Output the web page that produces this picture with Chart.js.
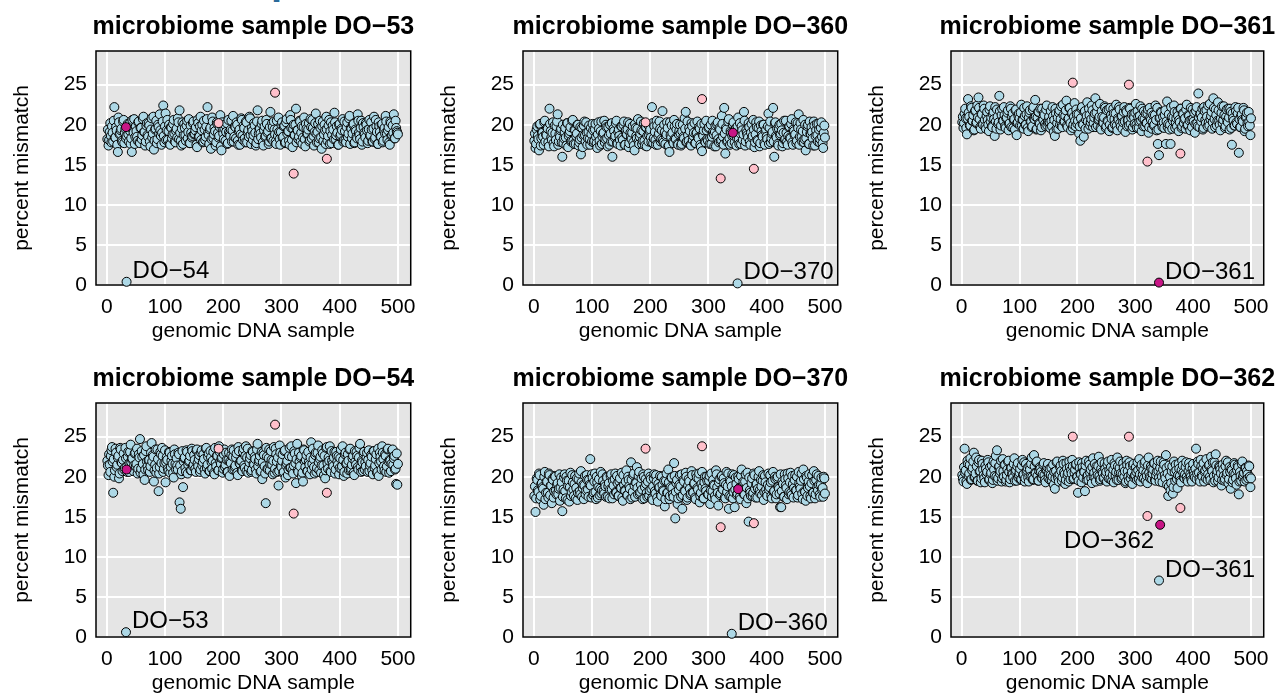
<!DOCTYPE html>
<html>
<head>
<meta charset="utf-8">
<script src="https://cdn.jsdelivr.net/npm/chart.js@4/dist/chart.umd.min.js"></script>
<style>
  html, body { margin: 0; padding: 0; background: #fff; overflow: hidden; width: 1279px; height: 693px; }
  canvas { position: absolute; }
  #frag { position: absolute; left: 271px; top: -40px; font: bold 40px "Liberation Sans", Arial, sans-serif; line-height: 40px; color: #2b6a9a; }
</style>
</head>
<body>
<div id="frag">p</div>
<script>
// percent mismatch of each genomic DNA sample against a microbiome sample
// "odd" arrays hold samples 1, 3, 5 ... 499 and "even" arrays samples 2, 4 ... 500
const odd53 = [
  18.2, 17.4, 19.1, 18.6, 19.8, 17.9, 22.2, 18.4, 19.3, 16.6, 20.3, 18.9, 19.5, 17.8, 20.6, 19.0, 18.3, 19.7, 18.8, 20.1, 17.6, 16.6, 19.4, 20.7, 18.5,
  19.2, 18.0, 20.4, 17.7, 19.6, 18.7, 21.0, 19.1, 17.9, 20.2, 18.5, 19.9, 17.3, 20.8, 18.9, 16.9, 19.4, 20.5, 18.2, 19.7, 21.3, 18.6, 19.0, 22.4, 17.8,
  21.4, 19.3, 18.1, 20.0, 17.5, 19.6, 18.8, 20.6, 17.9, 19.2, 18.4, 20.3, 21.8, 18.0, 19.5, 17.6, 20.1, 18.7, 19.9, 18.3, 20.7, 17.7, 19.0, 18.6, 20.4,
  18.9, 19.7, 17.2, 20.2, 18.5, 21.0, 19.3, 17.8, 20.5, 18.1, 19.8, 22.2, 18.7, 19.4, 17.0, 20.9, 18.3, 19.6, 17.4, 20.3, 19.0, 18.6, 21.2, 16.8, 19.5,
  18.2, 20.0, 19.1, 17.6, 20.6, 18.8, 19.4, 17.9, 21.1, 18.5, 19.7, 20.3, 18.0, 19.2, 17.5, 20.8, 18.6, 19.9, 18.3, 20.4, 17.8, 19.3, 21.0, 18.7, 19.6,
  18.1, 20.2, 19.0, 17.7, 21.8, 18.9, 19.5, 18.4, 20.5, 17.4, 19.8, 18.6, 20.1, 19.2, 17.9, 21.6, 18.3, 19.7, 20.4, 18.8, 17.6, 19.4, 20.9, 18.2, 19.1,
  20.3, 18.5, 19.9, 17.8, 20.7, 19.2, 18.0, 21.2, 19.6, 17.2, 20.0, 18.7, 22.0, 19.3, 18.2, 20.5, 17.9, 19.8, 18.4, 20.9, 17.3, 19.5, 18.9, 20.2, 18.1,
  19.7, 20.6, 18.6, 19.1, 21.4, 17.8, 20.1, 18.3, 19.6, 17.0, 20.4, 18.8, 19.3, 21.0, 18.0, 19.9, 17.6, 20.3, 18.7, 19.4, 21.5, 18.2, 19.8, 17.5, 20.0,
  18.6, 19.5, 20.7, 18.1, 19.2, 17.8, 20.3, 18.9, 21.1, 19.6, 18.3, 20.0, 17.7, 19.4, 18.5, 21.3, 19.0, 18.2, 20.5, 17.9, 19.7, 18.8, 20.2, 19.3, 18.0,
  20.6, 18.7, 19.4, 17.9, 21.0, 18.4, 19.8, 17.6, 20.3, 19.1, 18.5, 20.1, 18.0, 19.6, 21.1, 18.9, 19.3, 17.8, 20.4, 18.6, 19.9, 21.3, 18.3, 19.6, 19.0
];
const even53 = [
  19.4, 18.1, 20.2, 17.8, 19.0, 20.5, 18.4, 19.7, 17.5, 20.9, 18.8, 19.3, 18.0, 20.4, 17.7, 19.5, 18.6, 20.1, 17.9, 19.2, 18.3, 20.6, 19.0, 17.6, 19.8,
  18.5, 20.3, 17.8, 19.6, 18.2, 20.7, 19.1, 17.4, 19.9, 18.7, 20.2, 17.9, 19.4, 18.4, 21.0, 18.0, 19.5, 17.7, 20.0, 18.9, 19.3, 17.5, 20.4, 18.6, 19.8,
  18.1, 20.6, 19.2, 17.6, 19.7, 18.3, 20.1, 18.9, 17.8, 19.5, 20.8, 18.2, 19.0, 17.4, 20.3, 18.7, 19.6, 18.0, 20.5, 19.1, 17.7, 19.9, 18.4, 20.2, 18.8,
  19.3, 17.5, 20.6, 18.6, 19.8, 18.1, 20.0, 17.9, 19.4, 18.5, 20.7, 19.0, 17.6, 19.6, 18.2, 20.4, 18.8, 19.2, 17.8, 20.1, 18.4, 19.7, 17.3, 20.3, 18.9,
  19.5, 18.0, 20.2, 17.7, 19.1, 18.6, 20.5, 19.3, 17.9, 19.8, 18.3, 20.0, 17.5, 19.4, 18.8, 20.6, 18.1, 19.6, 17.8, 20.3, 19.0, 18.5, 20.8, 17.6, 19.2,
  18.7, 19.9, 17.4, 20.4, 18.2, 19.5, 18.9, 20.1, 17.8, 19.3, 18.5, 20.6, 19.0, 17.6, 19.7, 18.3, 20.2, 18.0, 19.4, 17.9, 20.5, 18.6, 19.1, 17.5, 20.0,
  18.4, 19.8, 17.7, 20.3, 18.9, 19.2, 17.5, 20.6, 18.1, 19.5, 18.7, 20.0, 17.8, 19.3, 18.5, 20.4, 19.0, 17.6, 19.7, 18.2, 20.1, 18.8, 19.4, 17.9, 20.7,
  18.3, 19.6, 17.4, 20.2, 18.9, 19.1, 17.8, 20.5, 18.4, 19.8, 18.0, 20.0, 17.6, 19.4, 18.6, 20.6, 19.2, 17.7, 19.9, 18.2, 20.3, 18.7, 19.0, 17.5, 20.1,
  18.8, 19.3, 17.9, 20.4, 18.1, 19.7, 18.5, 20.8, 17.6, 19.5, 18.9, 20.1, 17.8, 19.2, 18.3, 20.5, 18.7, 19.6, 17.5, 20.2, 19.0, 18.4, 20.0, 17.7, 19.4,
  18.6, 20.3, 17.9, 19.5, 18.2, 20.6, 19.1, 17.6, 19.8, 18.5, 20.0, 17.8, 19.3, 18.9, 20.4, 18.1, 19.7, 17.5, 20.2, 18.7, 19.0, 18.3, 20.5, 19.2, 18.8
];
const odd360 = [
  18.0, 17.1, 19.4, 18.6, 16.8, 20.1, 18.3, 19.0, 17.5, 20.5, 18.8, 19.6, 17.8, 22.0, 19.2, 18.1, 20.3, 17.3, 18.9, 19.8, 21.3, 17.9, 18.5, 19.5, 16.0,
  17.7, 19.1, 18.4, 20.2, 17.2, 18.9, 19.7, 18.0, 20.6, 17.6, 19.3, 18.6, 20.0, 17.4, 18.2, 16.3, 19.6, 18.7, 20.4, 17.9, 19.0, 18.3, 19.9, 17.5, 18.8,
  20.1, 17.8, 19.4, 18.5, 17.1, 20.3, 18.0, 19.2, 17.6, 18.9, 20.5, 18.2, 19.7, 17.3, 18.7, 20.0, 17.9, 16.0, 19.5, 18.4, 20.2, 17.7, 19.1, 18.6, 17.4,
  19.8, 18.1, 20.4, 17.5, 18.8, 19.4, 17.2, 20.1, 18.5, 19.0, 17.8, 16.8, 19.6, 18.3, 20.7, 17.6, 18.9, 19.3, 18.0, 20.2, 17.4, 19.7, 18.6, 17.9, 19.2,
  18.4, 22.2, 17.7, 19.8, 18.1, 20.5, 17.5, 18.9, 19.5, 18.2, 21.7, 17.8, 19.1, 18.6, 20.3, 17.3, 16.6, 18.7, 19.9, 17.9, 20.6, 18.3, 19.4, 17.6, 18.8,
  20.0, 17.4, 19.2, 18.5, 20.8, 21.6, 17.9, 18.7, 19.6, 17.5, 20.2, 18.1, 19.0, 17.7, 18.9, 20.4, 18.3, 19.5, 17.2, 16.7, 18.6, 20.1, 17.8, 19.3, 18.0,
  19.7, 18.4, 17.6, 20.5, 18.8, 19.1, 17.3, 20.0, 18.2, 19.6, 17.9, 21.1, 18.5, 22.1, 16.4, 19.4, 18.0, 20.7, 17.5, 19.0, 18.6, 20.3, 17.8, 19.5, 18.3,
  20.9, 17.6, 18.9, 19.8, 18.1, 21.6, 17.4, 19.3, 18.7, 20.2, 17.9, 19.0, 18.4, 20.6, 17.2, 18.8, 19.7, 18.0, 20.4, 17.7, 19.2, 18.5, 20.0, 17.5, 19.4,
  18.2, 21.4, 19.6, 17.8, 18.9, 22.1, 16.0, 20.3, 18.4, 17.6, 19.5, 18.7, 20.1, 17.3, 19.0, 18.1, 20.5, 17.9, 18.6, 19.8, 18.3, 20.7, 17.5, 19.2, 18.8,
  17.7, 20.2, 21.3, 18.5, 19.4, 17.9, 20.6, 18.2, 16.8, 19.1, 20.0, 17.6, 18.9, 19.7, 18.3, 20.4, 17.4, 19.3, 18.7, 20.1, 17.8, 19.6, 18.5, 17.1, 19.9
];
const even360 = [
  18.9, 17.6, 19.8, 18.2, 20.0, 17.4, 19.1, 18.5, 20.3, 17.9, 18.7, 19.5, 17.3, 20.1, 18.4, 19.0, 17.7, 19.9, 18.1, 20.4, 17.5, 18.8, 19.3, 17.8, 20.0,
  18.3, 19.6, 17.4, 20.2, 18.6, 19.2, 17.9, 20.5, 18.0, 19.4, 17.6, 18.9, 20.0, 17.8, 19.7, 18.4, 17.2, 19.9, 18.7, 20.3, 17.5, 19.1, 18.2, 19.6, 17.9,
  19.3, 18.0, 20.1, 17.7, 18.8, 19.5, 17.4, 20.4, 18.5, 19.0, 17.8, 20.0, 18.3, 19.7, 17.5, 18.9, 20.2, 17.9, 19.2, 18.6, 20.5, 17.6, 19.4, 18.1, 19.8,
  18.4, 20.0, 17.5, 19.3, 18.8, 20.3, 17.7, 19.0, 18.2, 19.8, 17.4, 20.1, 18.6, 19.5, 17.9, 18.5, 20.4, 17.6, 19.2, 18.0, 19.7, 17.3, 20.0, 18.7, 19.4,
  17.8, 20.2, 18.3, 19.1, 17.5, 19.9, 18.6, 20.4, 17.9, 19.3, 18.1, 20.0, 17.6, 18.8, 19.6, 17.4, 20.3, 18.4, 19.0, 17.7, 19.8, 18.2, 20.1, 17.5, 19.2,
  18.9, 17.6, 20.0, 18.3, 19.5, 17.8, 20.4, 18.0, 19.2, 17.4, 19.8, 18.6, 20.2, 17.7, 19.0, 18.4, 19.7, 17.5, 20.1, 18.8, 19.3, 17.9, 20.5, 18.2, 19.6,
  17.6, 20.0, 18.5, 19.1, 17.3, 19.9, 18.7, 20.3, 17.8, 19.4, 18.1, 20.1, 17.5, 18.9, 19.6, 17.9, 20.4, 18.3, 19.2, 17.7, 20.0, 18.6, 19.5, 17.4, 19.8,
  18.2, 20.2, 17.6, 19.3, 18.8, 20.5, 17.9, 19.0, 18.4, 19.7, 17.5, 20.1, 18.6, 19.4, 17.8, 20.3, 18.1, 19.6, 17.3, 19.9, 18.7, 20.0, 17.7, 19.2, 18.5,
  19.8, 17.6, 20.4, 18.3, 19.1, 17.9, 20.2, 18.6, 19.5, 17.4, 20.0, 18.9, 19.3, 17.7, 20.5, 18.2, 19.0, 17.5, 19.7, 18.4, 20.1, 17.8, 19.4, 18.7, 20.3,
  18.0, 19.6, 17.5, 20.2, 18.5, 19.2, 17.8, 20.0, 18.3, 19.8, 17.6, 20.4, 18.8, 19.1, 17.4, 19.9, 18.6, 20.1, 17.9, 19.4, 18.2, 20.3, 17.7, 19.0, 18.4
];
const odd361 = [
  20.3, 19.6, 21.4, 20.8, 18.8, 23.2, 21.0, 19.9, 22.1, 20.5, 19.3, 21.7, 20.2, 22.4, 23.4, 20.7, 19.5, 21.3, 20.0, 22.0, 19.8, 21.1, 20.6, 19.2, 22.3,
  20.9, 19.7, 21.6, 18.6, 20.4, 21.9, 20.1, 23.6, 19.4, 21.2, 20.5, 22.2, 19.8, 20.8, 21.5, 19.3, 20.2, 22.0, 21.0, 19.6, 20.7, 21.8, 18.7, 20.3, 21.4,
  19.9, 22.5, 20.6, 19.5, 21.1, 20.0, 22.3, 19.2, 21.5, 20.4, 19.7, 21.9, 20.8, 23.1, 19.4, 20.9, 21.6, 20.1, 19.3, 22.0, 20.6, 21.2, 19.8, 22.4, 20.3,
  21.0, 19.6, 20.5, 22.2, 19.1, 18.6, 21.4, 20.2, 19.5, 21.8, 20.7, 19.9, 22.5, 20.4, 21.1, 23.0, 19.7, 20.8, 22.1, 19.3, 21.5, 20.0, 22.7, 19.8, 21.3,
  20.5, 18.9, 18.0, 22.0, 20.1, 18.5, 21.7, 20.6, 22.8, 19.5, 21.2, 20.3, 22.4, 19.7, 20.9, 23.3, 21.5, 19.9, 20.7, 22.6, 19.4, 21.0, 20.2, 22.3, 19.6,
  21.8, 20.4, 19.2, 22.1, 20.8, 19.7, 21.4, 20.0, 22.5, 19.3, 20.6, 21.9, 19.8, 21.1, 20.3, 22.2, 19.1, 21.6, 20.5, 19.9, 22.0, 20.9, 19.4, 21.3, 20.1,
  22.6, 19.6, 21.0, 20.4, 22.3, 19.2, 20.8, 21.7, 19.8, 20.2, 21.4, 19.0, 22.1, 20.6, 19.5, 21.2, 20.0, 22.4, 19.3, 17.6, 16.2, 20.9, 21.5, 19.7, 20.3,
  21.2, 17.6, 22.9, 20.1, 19.4, 17.6, 21.0, 20.5, 22.4, 19.6, 20.8, 21.6, 19.2, 20.3, 22.0, 19.8, 21.3, 20.7, 19.5, 22.5, 20.0, 21.1, 19.3, 20.6, 21.9,
  20.4, 19.0, 21.7, 20.2, 23.9, 19.7, 21.4, 20.9, 19.4, 22.2, 20.6, 21.8, 19.8, 20.3, 22.6, 21.1, 19.5, 23.3, 20.7, 21.9, 19.9, 22.8, 20.5, 19.3, 21.5,
  20.2, 22.3, 19.6, 21.0, 20.5, 22.0, 19.4, 21.6, 17.5, 20.8, 19.9, 22.2, 20.3, 21.4, 16.5, 19.7, 21.1, 20.6, 22.1, 19.2, 20.9, 21.5, 19.8, 20.4, 18.7
];
const even361 = [
  21.0, 20.2, 22.0, 19.6, 20.8, 21.5, 19.9, 22.3, 20.5, 21.2, 19.4, 21.8, 20.3, 20.9, 22.1, 19.7, 21.4, 20.1, 22.4, 20.6, 19.5, 21.6, 20.0, 21.9, 20.4,
  19.8, 21.3, 20.7, 22.2, 19.5, 21.0, 20.3, 21.7, 19.9, 22.0, 20.5, 21.2, 19.6, 20.9, 21.8, 20.1, 22.3, 19.7, 21.4, 20.6, 19.4, 21.9, 20.2, 21.1, 20.8,
  21.5, 19.9, 20.6, 22.1, 20.0, 21.3, 19.6, 20.9, 21.8, 20.4, 19.8, 22.2, 20.7, 21.0, 19.5, 21.6, 20.2, 22.0, 19.7, 20.8, 21.4, 20.1, 21.9, 19.9, 20.5,
  20.3, 21.7, 19.8, 21.1, 20.6, 22.0, 19.5, 20.9, 21.5, 20.0, 22.3, 19.7, 21.2, 20.4, 21.8, 19.9, 20.7, 22.1, 20.2, 21.4, 19.6, 21.0, 20.5, 21.9, 20.1,
  21.3, 19.8, 20.8, 22.2, 20.0, 21.6, 19.5, 21.1, 20.4, 22.0, 19.9, 20.7, 21.8, 20.2, 21.4, 19.7, 22.3, 20.6, 21.0, 19.6, 21.7, 20.3, 20.9, 22.1, 19.8,
  20.5, 21.9, 20.0, 21.2, 19.6, 22.0, 20.7, 21.4, 19.9, 20.8, 22.2, 20.2, 21.0, 19.5, 21.6, 20.4, 21.8, 19.8, 20.6, 22.1, 20.1, 21.3, 19.7, 20.9, 21.5,
  20.0, 21.7, 19.6, 21.1, 20.5, 22.0, 19.8, 20.7, 21.4, 20.2, 21.9, 19.7, 20.9, 21.5, 20.3, 19.9, 21.2, 20.6, 22.1, 19.4, 20.8, 21.6, 20.1, 21.0, 19.6,
  21.8, 20.4, 19.7, 21.3, 20.0, 22.2, 19.5, 20.9, 21.6, 20.3, 19.8, 21.1, 20.6, 22.0, 19.6, 21.4, 20.2, 20.8, 21.9, 19.9, 21.2, 20.5, 22.1, 19.7, 20.7,
  21.5, 20.1, 22.2, 19.8, 20.9, 21.3, 20.4, 22.0, 19.6, 21.7, 20.2, 21.0, 22.4, 19.9, 20.7, 21.6, 20.3, 22.1, 19.7, 21.2, 20.5, 21.8, 20.0, 20.8, 22.3,
  20.6, 21.2, 19.8, 21.9, 20.3, 20.9, 22.0, 19.6, 21.4, 20.5, 19.9, 21.7, 20.1, 22.1, 20.7, 19.7, 21.3, 20.4, 21.8, 19.5, 21.0, 20.2, 21.6, 19.9, 20.8
];
const odd54 = [
  22.0, 20.2, 21.5, 22.6, 23.7, 18.0, 20.0, 23.5, 21.2, 22.4, 19.8, 23.6, 21.8, 20.7, 22.9, 21.1, 22.3, 20.6, 23.1, 21.7, 24.0, 22.2, 20.9, 21.4, 23.0,
  21.6, 20.4, 22.8, 24.7, 21.0, 22.5, 20.3, 19.6, 23.2, 21.9, 20.8, 22.1, 21.3, 24.2, 22.7, 19.4, 21.5, 20.5, 23.4, 18.2, 21.2, 22.8, 23.6, 20.6, 21.7,
  19.3, 22.4, 21.0, 23.1, 20.5, 22.0, 21.6, 19.9, 22.8, 20.9, 21.4, 23.0, 16.8, 16.0, 20.7, 18.7, 22.3, 21.1, 23.3, 20.4, 21.9, 22.6, 20.8, 23.2, 21.5,
  22.1, 20.6, 23.4, 21.3, 22.7, 20.9, 23.3, 21.8, 22.2, 20.4, 23.6, 21.5, 22.9, 20.7, 22.4, 21.0, 23.1, 20.3, 21.7, 22.6, 20.8, 23.8, 21.9, 22.3, 20.5,
  22.8, 21.2, 23.0, 20.6, 22.1, 20.1, 21.7, 23.4, 22.5, 20.9, 21.4, 22.9, 20.2, 23.2, 21.6, 22.0, 20.7, 23.5, 21.1, 23.8, 22.4, 20.5, 21.8, 22.7, 20.8,
  23.1, 21.5, 22.2, 20.4, 24.1, 21.9, 22.6, 20.7, 19.7, 23.0, 21.3, 16.7, 22.5, 20.9, 23.4, 21.6, 22.1, 20.3, 23.7, 21.0, 22.8, 20.6, 18.9, 23.9, 21.4,
  22.0, 20.5, 23.2, 19.9, 21.7, 20.2, 22.6, 21.1, 23.8, 20.8, 21.4, 22.9, 19.2, 24.1, 20.6, 21.9, 22.4, 20.1, 19.4, 23.3, 21.2, 22.7, 20.7, 21.8, 20.3,
  24.3, 21.6, 22.2, 20.4, 23.0, 21.1, 23.9, 20.8, 22.5, 21.4, 22.9, 20.2, 19.8, 23.6, 21.7, 22.4, 23.8, 20.6, 22.0, 21.3, 23.1, 20.9, 22.6, 21.5, 20.3,
  22.3, 21.0, 23.8, 20.1, 22.8, 21.6, 20.4, 22.0, 23.4, 20.8, 21.5, 22.6, 20.2, 21.9, 23.1, 21.2, 22.4, 24.1, 20.6, 21.8, 22.9, 20.9, 21.3, 23.0, 22.1,
  20.7, 21.7, 22.5, 20.3, 23.2, 21.4, 22.8, 20.6, 20.1, 23.0, 21.9, 23.8, 22.2, 20.8, 22.6, 21.3, 23.5, 20.5, 22.0, 21.6, 23.4, 22.3, 20.9, 19.1, 19.0
];
const even54 = [
  21.4, 22.8, 20.6, 23.3, 21.9, 22.2, 20.8, 23.0, 21.5, 22.6, 20.4, 23.4, 21.7, 22.1, 20.9, 23.6, 21.2, 22.5, 20.6, 23.1, 21.8, 22.3, 20.7, 22.9, 21.3,
  23.5, 21.0, 22.4, 20.5, 23.2, 21.6, 22.7, 20.9, 23.8, 21.3, 22.0, 20.6, 23.0, 21.9, 22.5, 20.8, 23.4, 21.1, 22.2, 20.4, 23.1, 21.7, 22.6, 21.0, 23.3,
  21.8, 22.1, 20.7, 23.0, 21.2, 22.6, 20.5, 23.4, 21.6, 22.3, 20.9, 22.8, 21.4, 20.3, 23.2, 21.9, 22.4, 20.6, 23.1, 21.5, 22.0, 20.8, 23.5, 21.3, 22.7,
  21.0, 23.3, 21.7, 22.2, 20.6, 23.0, 21.4, 22.8, 20.9, 23.5, 21.1, 22.5, 20.7, 23.2, 21.8, 22.0, 20.5, 23.6, 21.3, 22.6, 20.8, 23.1, 21.6, 22.4, 21.0,
  23.4, 21.5, 22.1, 20.6, 23.0, 21.9, 22.7, 20.9, 23.3, 21.2, 22.4, 20.5, 23.7, 21.7, 22.0, 20.8, 23.1, 21.4, 22.6, 20.7, 23.5, 21.1, 22.3, 20.6, 23.2,
  21.6, 22.5, 20.9, 23.4, 21.3, 22.1, 20.6, 23.1, 21.8, 22.7, 20.4, 23.6, 21.0, 22.3, 20.8, 23.2, 21.5, 22.0, 20.5, 23.5, 21.9, 22.4, 20.7, 23.0, 21.2,
  22.8, 20.6, 23.3, 21.4, 22.0, 20.9, 23.6, 21.1, 22.5, 20.4, 23.2, 21.7, 22.2, 20.8, 23.0, 21.3, 22.6, 20.5, 23.4, 21.9, 22.1, 20.7, 23.1, 21.5, 22.4,
  20.9, 23.5, 21.2, 22.7, 20.6, 23.0, 21.8, 22.2, 20.5, 23.3, 21.4, 22.6, 20.8, 23.7, 21.0, 22.0, 20.7, 23.2, 21.6, 22.4, 20.4, 23.1, 21.9, 22.5, 21.1,
  23.4, 21.3, 22.1, 20.6, 23.0, 21.7, 22.8, 20.8, 23.5, 21.0, 22.3, 20.5, 23.2, 21.5, 22.6, 20.9, 23.6, 21.2, 22.0, 20.7, 23.1, 21.8, 22.4, 20.6, 23.3,
  21.4, 22.7, 20.8, 23.2, 21.1, 22.2, 20.5, 23.5, 21.7, 22.5, 20.9, 23.0, 21.3, 22.8, 20.6, 23.4, 21.9, 22.1, 20.7, 23.3, 21.5, 22.6, 21.0, 22.9, 21.6
];
const odd370 = [
  17.6, 15.6, 19.8, 18.3, 20.4, 17.2, 19.1, 18.7, 16.5, 20.6, 18.0, 19.4, 17.4, 20.2, 18.9, 16.7, 19.6, 18.2, 20.0, 17.8, 19.2, 18.5, 17.0, 19.9, 15.7,
  18.4, 20.3, 17.3, 19.5, 18.8, 16.9, 20.5, 18.1, 19.3, 17.6, 20.1, 18.6, 17.1, 19.7, 18.2, 20.7, 17.5, 19.0, 18.9, 17.8, 20.2, 18.4, 19.6, 22.2, 17.4,
  19.9, 18.0, 20.4, 17.2, 19.3, 18.7, 17.7, 20.6, 18.3, 19.5, 17.9, 18.8, 20.0, 17.5, 19.2, 18.4, 20.3, 17.3, 18.9, 19.7, 18.1, 20.1, 17.6, 19.4, 18.6,
  20.5, 17.0, 19.0, 18.2, 20.8, 17.7, 19.6, 18.5, 21.8, 17.4, 20.2, 18.9, 19.3, 21.2, 17.8, 20.6, 18.1, 19.8, 17.2, 20.0, 18.7, 19.1, 17.5, 20.4, 18.3,
  19.7, 17.3, 18.8, 20.3, 17.9, 19.4, 16.9, 18.6, 20.1, 17.6, 19.0, 18.2, 16.3, 19.5, 18.0, 20.9, 17.2, 18.7, 19.9, 17.8, 21.7, 14.8, 19.2, 16.6, 18.4,
  20.2, 17.5, 16.0, 19.6, 18.3, 20.5, 17.1, 18.9, 19.4, 17.7, 20.7, 18.1, 19.1, 17.4, 20.3, 18.6, 19.8, 16.8, 18.0, 20.6, 17.3, 19.3, 18.5, 20.0, 17.8,
  19.5, 16.6, 20.4, 18.2, 19.0, 17.6, 20.8, 18.7, 16.4, 19.7, 17.9, 20.1, 18.4, 19.2, 17.3, 20.6, 18.8, 16.0, 19.6, 17.5, 20.3, 18.1, 16.2, 19.9, 17.7,
  20.0, 18.6, 17.2, 20.9, 18.9, 17.8, 19.4, 16.7, 20.5, 14.4, 18.3, 17.6, 19.8, 18.0, 20.2, 17.4, 19.1, 18.5, 20.7, 17.9, 18.8, 19.5, 17.1, 20.1, 18.4,
  17.6, 20.4, 18.7, 19.3, 17.3, 20.6, 18.2, 19.7, 17.8, 20.0, 18.5, 16.2, 16.2, 19.4, 17.5, 20.3, 18.9, 17.2, 19.8, 18.1, 20.5, 17.7, 19.1, 18.6, 20.2,
  18.3, 17.4, 20.6, 18.8, 19.5, 17.9, 20.9, 18.2, 17.0, 19.9, 18.6, 20.3, 17.6, 19.2, 18.0, 20.7, 17.3, 19.6, 18.7, 20.1, 17.8, 19.0, 18.4, 17.5, 19.8
];
const even370 = [
  18.8, 17.3, 19.6, 18.1, 20.2, 17.6, 19.2, 18.5, 20.0, 17.2, 19.4, 18.0, 20.4, 17.7, 18.9, 19.7, 17.4, 20.1, 18.3, 19.0, 17.8, 20.3, 18.6, 19.3, 17.5,
  19.9, 18.2, 20.0, 17.1, 19.5, 18.7, 17.6, 20.2, 18.4, 19.1, 17.3, 19.8, 18.0, 20.4, 17.8, 19.3, 18.6, 17.2, 20.1, 18.3, 19.6, 17.5, 19.0, 18.9, 20.3,
  17.7, 19.4, 18.1, 20.0, 17.4, 19.7, 18.5, 17.9, 20.3, 18.2, 19.1, 17.5, 19.9, 18.8, 17.3, 20.1, 18.4, 19.5, 17.8, 20.4, 18.0, 19.2, 17.6, 19.8, 18.6,
  17.4, 20.2, 18.3, 19.4, 17.7, 20.0, 18.8, 17.2, 19.6, 18.1, 20.4, 17.5, 19.2, 18.6, 20.1, 17.9, 19.0, 18.4, 20.3, 17.3, 19.7, 18.0, 19.4, 17.6, 20.0,
  18.5, 17.1, 19.8, 18.2, 20.2, 17.4, 19.1, 18.7, 17.8, 20.0, 18.3, 19.5, 17.2, 20.4, 18.0, 19.3, 17.6, 19.9, 18.6, 17.5, 20.1, 18.1, 19.6, 17.3, 19.0,
  18.8, 20.3, 17.7, 19.4, 18.2, 20.0, 17.4, 19.7, 18.5, 17.9, 20.2, 18.0, 19.2, 17.2, 19.9, 18.4, 20.4, 17.6, 19.1, 18.7, 17.3, 20.0, 18.2, 19.5, 17.8,
  20.1, 18.3, 17.5, 19.6, 18.9, 17.2, 20.3, 18.0, 19.3, 17.7, 20.0, 18.5, 19.8, 17.4, 19.0, 18.1, 20.4, 17.6, 19.4, 18.8, 17.3, 20.2, 18.4, 19.1, 17.9,
  19.7, 17.5, 20.1, 18.2, 19.4, 17.8, 20.3, 18.6, 17.3, 19.9, 18.0, 19.2, 17.6, 20.4, 18.5, 19.0, 17.4, 20.0, 18.3, 19.6, 17.7, 20.2, 18.1, 19.3, 17.9,
  19.0, 18.4, 20.2, 17.6, 19.5, 18.1, 20.0, 17.3, 19.8, 18.7, 17.9, 20.3, 18.2, 19.1, 17.5, 19.7, 18.6, 20.4, 17.8, 19.3, 18.0, 20.1, 17.4, 19.6, 18.3,
  20.0, 17.7, 19.2, 18.5, 20.4, 17.2, 19.7, 18.1, 20.1, 17.6, 19.4, 18.8, 17.3, 20.2, 18.0, 19.5, 17.8, 20.3, 18.3, 19.0, 17.5, 19.9, 18.6, 20.0, 17.9
];
const odd362 = [
  20.2, 19.4, 23.5, 20.8, 19.1, 21.6, 20.4, 22.3, 19.7, 21.1, 23.0, 20.0, 22.4, 19.5, 21.8, 20.6, 19.3, 22.0, 20.9, 19.8, 21.4, 20.3, 22.1, 19.6, 21.2,
  20.5, 19.2, 21.9, 20.1, 22.6, 23.3, 19.8, 21.3, 20.7, 19.4, 22.2, 20.0, 21.5, 19.6, 20.9, 22.0, 19.3, 21.1, 20.4, 19.9, 22.3, 20.6, 19.5, 21.7, 20.2,
  21.0, 19.7, 22.1, 20.3, 19.4, 21.6, 20.8, 19.9, 21.3, 20.0, 22.4, 19.6, 22.7, 20.5, 21.8, 20.1, 19.5, 21.2, 20.6, 19.8, 21.5, 20.2, 19.3, 20.9, 21.6,
  20.4, 19.6, 21.1, 20.0, 19.0, 18.5, 20.7, 21.9, 19.8, 20.3, 21.4, 19.5, 22.0, 20.6, 19.1, 21.7, 20.2, 19.4, 21.2, 20.8, 22.1, 19.7, 20.5, 21.5, 20.0,
  18.0, 21.8, 20.4, 19.3, 21.2, 20.7, 18.2, 22.0, 20.1, 19.6, 21.5, 20.9, 19.2, 22.3, 20.5, 19.9, 21.3, 20.2, 22.5, 19.5, 21.0, 20.6, 19.8, 21.7, 20.3,
  19.4, 21.9, 20.8, 19.7, 22.1, 20.2, 19.3, 21.4, 20.6, 22.4, 19.6, 21.1, 20.4, 19.9, 21.7, 20.0, 19.2, 22.0, 20.7, 19.5, 21.3, 20.3, 19.1, 21.6, 20.1,
  21.2, 19.6, 20.8, 22.2, 19.4, 21.5, 20.3, 19.8, 21.9, 20.5, 19.2, 22.4, 20.0, 21.3, 19.7, 20.9, 21.7, 19.5, 20.6, 22.0, 19.9, 21.1, 20.4, 19.3, 21.8,
  20.2, 22.7, 19.0, 17.6, 21.4, 18.3, 20.7, 17.9, 21.9, 19.5, 20.8, 18.6, 21.6, 20.1, 19.3, 22.0, 20.5, 19.8, 21.2, 20.0, 19.4, 21.7, 20.3, 19.6, 21.0,
  20.6, 19.9, 23.5, 20.4, 21.6, 19.7, 22.1, 20.2, 21.0, 19.4, 20.8, 22.2, 19.6, 21.4, 20.0, 22.5, 20.7, 19.3, 21.8, 22.8, 20.3, 19.5, 21.3, 20.9, 18.9,
  21.5, 20.1, 19.7, 22.0, 20.5, 19.2, 21.2, 18.5, 20.8, 19.6, 21.7, 20.3, 19.0, 21.4, 17.8, 20.6, 19.5, 21.9, 20.2, 19.4, 21.1, 20.7, 19.8, 21.3, 18.7
];
const even362 = [
  19.8, 21.2, 20.5, 19.4, 22.0, 20.1, 21.5, 19.6, 20.8, 21.9, 19.9, 20.4, 21.3, 19.5, 22.1, 20.7, 19.8, 21.6, 20.2, 19.3, 21.0, 20.6, 21.8, 19.7, 20.3,
  21.4, 19.6, 20.9, 21.7, 20.0, 19.5, 21.2, 20.4, 22.0, 19.8, 20.7, 21.5, 19.4, 20.2, 21.9, 20.6, 19.7, 21.1, 20.3, 21.6, 19.5, 20.8, 21.3, 19.9, 20.5,
  19.6, 21.4, 20.2, 21.8, 19.8, 20.6, 21.1, 19.4, 20.9, 21.6, 20.0, 19.7, 21.3, 20.4, 21.9, 19.5, 20.7, 21.0, 19.9, 20.3, 21.7, 19.6, 20.8, 21.2, 19.8,
  21.0, 20.2, 19.5, 21.5, 20.6, 19.8, 21.8, 20.1, 19.4, 21.2, 20.7, 19.9, 21.6, 20.3, 19.6, 21.0, 20.5, 21.9, 19.7, 20.4, 21.3, 19.8, 20.9, 21.6, 20.0,
  19.5, 21.1, 20.3, 21.7, 19.9, 20.6, 21.4, 19.6, 20.2, 21.9, 20.5, 19.8, 21.2, 20.0, 21.6, 19.4, 20.8, 21.3, 20.1, 19.7, 21.8, 20.4, 19.9, 21.0, 20.6,
  21.5, 19.8, 20.4, 21.2, 19.5, 20.9, 21.7, 20.1, 19.6, 21.3, 20.5, 21.9, 19.7, 20.3, 21.1, 20.7, 19.4, 21.5, 20.0, 21.8, 19.8, 20.6, 21.4, 19.9, 20.2,
  20.6, 21.8, 19.7, 20.3, 21.2, 19.9, 20.8, 21.6, 19.5, 20.1, 21.4, 20.5, 19.8, 21.0, 20.4, 21.7, 19.6, 20.2, 21.3, 20.7, 19.4, 21.9, 20.0, 20.9, 21.5,
  19.8, 21.1, 20.4, 18.8, 20.0, 19.2, 21.3, 18.7, 20.6, 21.5, 19.7, 20.2, 21.0, 19.5, 20.8, 21.4, 19.9, 20.3, 21.8, 19.6, 20.7, 21.2, 20.0, 19.4, 21.6,
  20.2, 21.0, 19.7, 21.9, 20.5, 19.4, 21.3, 20.0, 21.7, 20.6, 19.8, 21.1, 20.3, 21.5, 19.6, 20.9, 21.8, 20.1, 19.5, 21.4, 20.7, 19.9, 21.2, 20.4, 19.6,
  20.9, 19.5, 21.3, 20.2, 21.8, 19.7, 20.6, 21.0, 19.3, 20.4, 21.5, 19.8, 20.8, 21.2, 19.4, 20.1, 21.6, 19.9, 20.5, 21.1, 19.6, 20.3, 21.4, 20.0, 19.8
];

// the four reference samples drawn in pink, same genomic DNA samples in every panel
const pinkX = [192, 289, 321, 378];
const pink53 = [20.2, 24.0, 13.9, 15.75];
const pink360 = [20.3, 23.2, 13.3, 14.5];
const pink361 = [25.25, 25.0, 15.4, 16.4];
const pink54 = [23.5, 26.5, 15.4, 18.0];
const pink370 = [23.5, 23.8, 13.7, 14.2];
const pink362 = [25.0, 25.0, 15.1, 16.1];

// the panel's own sample (magenta)
const selfX = [33, 342, 341, 34, 351, 343];
const selfY = [19.7, 19.0, 0.3, 20.9, 18.45, 14.0];
const selfLabel = [null, null, 'DO\u2212361', null, null, 'DO\u2212362'];

// a named look-alike sample inside the blue cloud
const otherX = [34, 350, null, 33, 340, 341];
const otherY = [0.4, 0.2, null, 0.6, 0.4, 7.05];
const otherLabel = ['DO\u221254', 'DO\u2212370', null, 'DO\u221253', 'DO\u2212360', 'DO\u2212361'];

const titles = ['microbiome sample DO\u221253', 'microbiome sample DO\u2212360', 'microbiome sample DO\u2212361',
                'microbiome sample DO\u221254', 'microbiome sample DO\u2212370', 'microbiome sample DO\u2212362'];
const oddClouds = [odd53, odd360, odd361, odd54, odd370, odd362];
const evenClouds = [even53, even360, even361, even54, even370, even362];
const pinks = [pink53, pink360, pink361, pink54, pink370, pink362];

const xTicks = [0, 100, 200, 300, 400, 500];
const yTicks = [0, 5, 10, 15, 20, 25];

const FONT = '"Liberation Sans", Arial, Helvetica, sans-serif';
Chart.defaults.font.family = FONT;
Chart.defaults.color = '#000';

const colLeft = [0, 427, 855];
const colWidth = [426, 426, 424];
const rowTop = [0, 352];
const panelH = 346;
const plotTop = 51, plotH = 234, axisW = 96;

const decor = {
    id: 'decor',
    beforeDraw: function(chart) {
        const a = chart.chartArea, ctx = chart.ctx;
        ctx.save();
        ctx.fillStyle = '#e5e5e5';
        ctx.fillRect(a.left, a.top, a.right - a.left, a.bottom - a.top);
        ctx.restore();
    },
    beforeDatasetsDraw: function(chart) {
        const a = chart.chartArea, ctx = chart.ctx;
        ctx.save();
        ctx.strokeStyle = '#000';
        ctx.lineWidth = 1.5;
        ctx.strokeRect(a.left, a.top, a.right - a.left, a.bottom - a.top);
        ctx.restore();
    },
    afterDraw: function(chart) {
        const a = chart.chartArea, ctx = chart.ctx;
        const o = chart.options.plugins.decor;
        const cx = (a.left + a.right) / 2;
        ctx.save();
        ctx.fillStyle = '#000';
        ctx.textAlign = 'center';
        ctx.textBaseline = 'alphabetic';
        ctx.font = 'bold 25px ' + FONT;
        ctx.fillText(o.title, cx, a.top - 17.5);
        ctx.font = '21px ' + FONT;
        ctx.fillText('genomic DNA sample', cx, a.bottom + 51.5);
        ctx.save();
        ctx.translate(a.left - 68.5, (a.top + a.bottom) / 2);
        ctx.rotate(-Math.PI / 2);
        ctx.fillText('percent mismatch', 0, 0);
        ctx.restore();

        ctx.font = '24px ' + FONT;
        const xs = chart.scales.x, ys = chart.scales.y;
        o.labels.forEach(function(l) {
            const px = xs.getPixelForValue(l.x), py = ys.getPixelForValue(l.y);
            if (l.side === 'll') {
                ctx.textAlign = 'right';
                ctx.fillText(l.text, px - 6, py + 23.5);
            } else {
                ctx.textAlign = 'left';
                ctx.fillText(l.text, px + 6, py - 4);
            }
        });
        ctx.restore();
    }
};

function pointSet(data, color, order) {
    return {
        data: data,
        backgroundColor: color,
        borderColor: '#000',
        borderWidth: 1,
        pointRadius: 4.5,
        pointHoverRadius: 4.5,
        clip: false,
        order: order
    };
}

for (let p = 0; p < 6; p++) {
    const col = p % 3, row = Math.floor(p / 3);
    const canvas = document.createElement('canvas');
    canvas.width = colWidth[col];
    canvas.height = panelH;
    canvas.style.left = colLeft[col] + 'px';
    canvas.style.top = rowTop[row] + 'px';
    document.body.appendChild(canvas);

    // points in sample order: 1, 2, 3 ... 500
    const blue = [];
    oddClouds[p].forEach(function(v, i) {
        blue.push({ x: 2 * i + 1, y: v });
        blue.push({ x: 2 * i + 2, y: evenClouds[p][i] });
    });
    const labels = [];
    if (otherX[p] !== null) {
        blue.push({ x: otherX[p], y: otherY[p] });
        labels.push({ text: otherLabel[p], x: otherX[p], y: otherY[p], side: 'ur' });
    }
    if (selfLabel[p]) {
        labels.push({ text: selfLabel[p], x: selfX[p], y: selfY[p], side: p === 5 ? 'll' : 'ur' });
    }
    const pink = pinkX.map(function(x, i) { return { x: x, y: pinks[p][i] }; });
    const self = [{ x: selfX[p], y: selfY[p] }];

    new Chart(canvas, {
        type: 'scatter',
        data: {
            datasets: [
                pointSet(blue, '#add8e6', 3),
                pointSet(pink, '#ffc0cb', 2),
                pointSet(self, '#c71585', 1)
            ]
        },
        options: {
            responsive: false,
            animation: false,
            devicePixelRatio: 1,
            events: [],
            layout: { padding: { top: plotTop, left: 0, bottom: 0, right: colWidth[col] - axisW - 316 } },
            plugins: {
                legend: { display: false },
                tooltip: { enabled: false },
                decor: { title: titles[p], labels: labels }
            },
            scales: {
                x: {
                    type: 'linear',
                    min: -18.5,
                    max: 522,
                    afterBuildTicks: function(s) { s.ticks = xTicks.map(function(v) { return { value: v }; }); },
                    afterFit: function(s) { s.height = panelH - plotTop - plotH; },
                    ticks: { font: { size: 21 }, padding: 10, maxRotation: 0, autoSkip: false, color: '#000' },
                    grid: { color: '#ffffff', lineWidth: 2, drawTicks: false },
                    border: { display: false }
                },
                y: {
                    type: 'linear',
                    min: 0,
                    max: 29.2,
                    afterBuildTicks: function(s) { s.ticks = yTicks.map(function(v) { return { value: v }; }); },
                    afterFit: function(s) { s.width = axisW; },
                    ticks: { font: { size: 21 }, padding: 9, autoSkip: false, color: '#000' },
                    grid: { color: '#ffffff', lineWidth: 2, drawTicks: false },
                    border: { display: false }
                }
            }
        },
        plugins: [decor]
    });
}
</script>
</body>
</html>
